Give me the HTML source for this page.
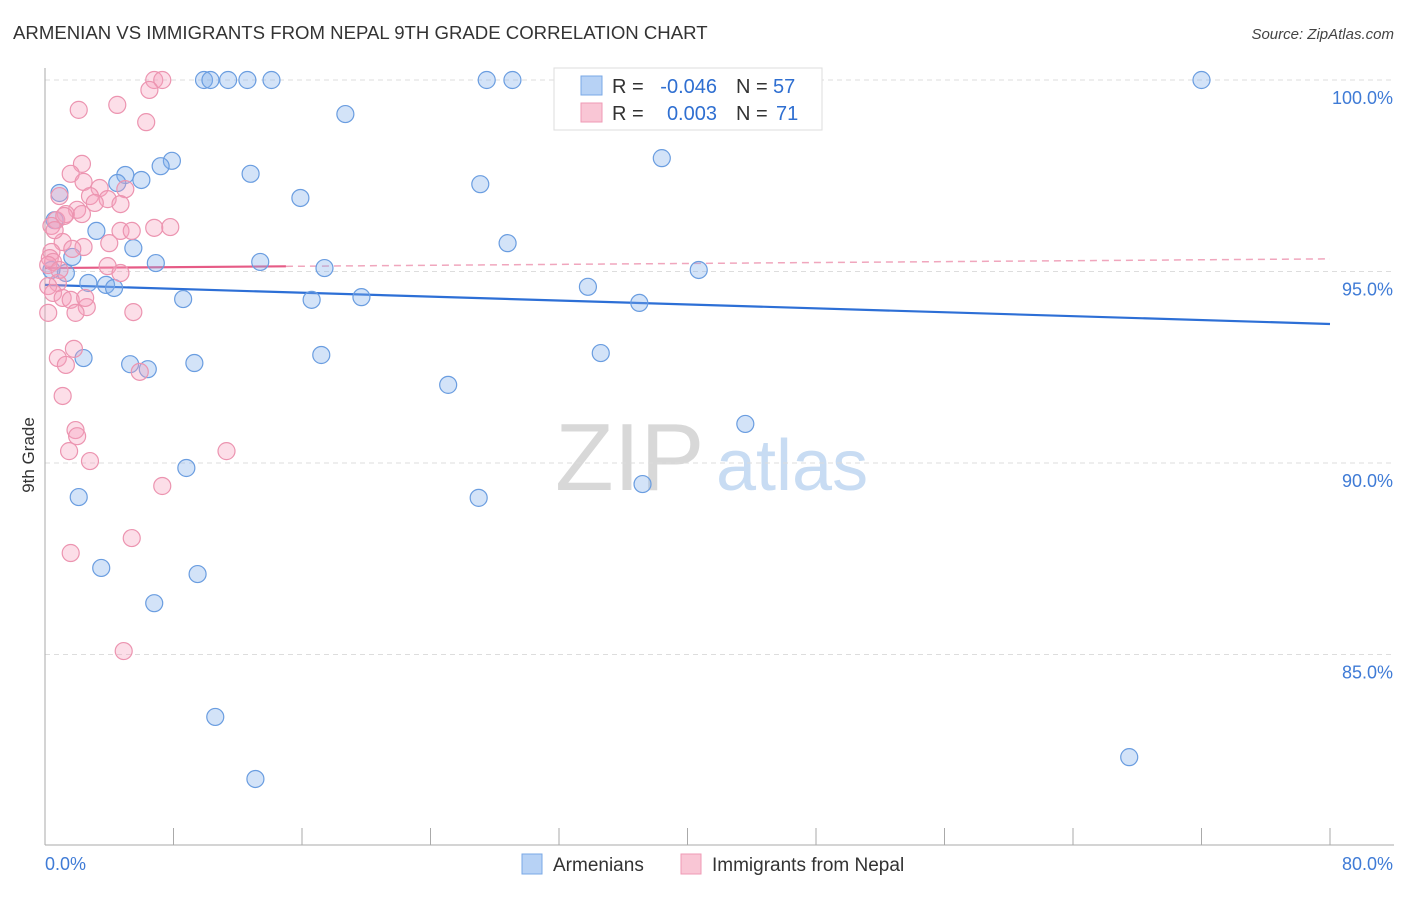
<!DOCTYPE html>
<html><head><meta charset="utf-8"><style>
body{margin:0;background:#fff;font-family:"Liberation Sans",sans-serif;}
svg text{font-family:"Liberation Sans",sans-serif;}
</style></head><body>
<svg id="chart" width="1406" height="892" xmlns="http://www.w3.org/2000/svg">
<text x="13" y="39" font-size="18.6" fill="#333">ARMENIAN VS IMMIGRANTS FROM NEPAL 9TH GRADE CORRELATION CHART</text>
<text x="1394" y="39" font-size="15" fill="#444" text-anchor="end" font-style="italic">Source: ZipAtlas.com</text>
<text transform="translate(34,455) rotate(-90)" font-size="17" fill="#333" text-anchor="middle">9th Grade</text>
<g>
<text x="555" y="490" font-size="96" fill="#d8d8d8" font-family="Liberation Serif,serif">ZIP</text>
<text x="716" y="490" font-size="72" fill="#c8dcf3">atlas</text>
</g>
<g id="grid"></g><g id="axes"></g><g id="lines"></g><g id="pts"></g>
<g>
<rect x="554" y="68" width="268" height="62" fill="#fff" stroke="#ddd"/>
<rect x="581" y="76" width="21" height="19" fill="#b7d2f5" stroke="#7aa8e6"/>
<rect x="581" y="103" width="21" height="19" fill="#f9c6d5" stroke="#ef9ab5"/>
<text x="612" y="93" font-size="20" fill="#333">R =</text>
<text x="717" y="93" font-size="20" fill="#2f6fd1" text-anchor="end">-0.046</text>
<text x="736" y="93" font-size="20" fill="#333">N =</text>
<text x="773" y="93" font-size="20" fill="#2f6fd1">57</text>
<text x="612" y="120" font-size="20" fill="#333">R =</text>
<text x="717" y="120" font-size="20" fill="#2f6fd1" text-anchor="end">0.003</text>
<text x="736" y="120" font-size="20" fill="#333">N =</text>
<text x="776" y="120" font-size="20" fill="#2f6fd1">71</text>
</g>
<g>
<rect x="522" y="854" width="20" height="20" fill="#b7d2f5" stroke="#7aa8e6"/>
<text x="553" y="871" font-size="19" fill="#333">Armenians</text>
<rect x="681" y="854" width="20" height="20" fill="#f9c6d5" stroke="#ef9ab5"/>
<text x="712" y="871" font-size="19" fill="#333">Immigrants from Nepal</text>
</g>
</svg>
<script>
const blueX=[9.9,10.3,11.4,12.6,14.1,27.5,29.1,32.8,72.0,18.7,38.4,7.9,7.2,12.8,5.0,6.0,4.5,27.1,0.9,15.9,0.6,3.2,28.8,5.5,1.7,6.9,13.4,17.4,40.7,1.3,2.7,3.8,4.3,33.8,8.6,16.6,19.7,37.0,17.2,34.6,2.4,5.3,6.4,9.3,25.1,43.6,8.8,37.2,2.1,27.0,3.5,9.5,6.8,10.6,13.1,67.5,0.4];
const blueY=[100,100,100,100,100,100,100,100,100,99.11,97.96,97.89,97.75,97.55,97.52,97.39,97.31,97.28,97.05,96.92,96.34,96.06,95.74,95.61,95.38,95.22,95.25,95.09,95.04,94.96,94.7,94.65,94.57,94.6,94.28,94.26,94.33,94.18,92.82,92.87,92.74,92.58,92.45,92.61,92.04,91.02,89.87,89.45,89.11,89.09,87.26,87.1,86.34,83.37,81.75,82.32,95.04];
const pinkX=[6.8,7.3,6.5,2.1,4.5,6.3,2.3,1.6,2.4,0.9,3.4,5.0,2.8,3.9,4.7,2.0,1.3,2.3,3.1,0.7,1.2,0.4,4.7,6.8,7.8,5.4,1.1,4.0,2.4,1.7,0.4,0.3,0.5,0.2,3.9,4.7,0.8,0.2,0.5,1.1,1.6,2.6,1.9,0.2,5.5,0.8,1.8,1.3,5.9,1.1,1.9,2.0,1.5,2.8,11.3,7.3,1.6,5.4,4.9,0.6,0.9,2.5];
const pinkY=[100,100,99.74,99.22,99.35,98.9,97.81,97.55,97.34,96.97,97.18,97.15,96.97,96.89,96.76,96.61,96.5,96.5,96.79,96.34,96.45,96.19,96.06,96.14,96.16,96.06,95.77,95.74,95.64,95.59,95.51,95.35,95.25,95.17,95.14,94.96,94.7,94.62,94.44,94.31,94.26,94.07,93.92,93.92,93.94,92.74,92.98,92.56,92.38,91.75,90.86,90.7,90.31,90.05,90.31,89.4,87.65,88.04,85.09,96.08,95.04,94.31];
const yTicks=[100,95,90,85];
const yTickLabels=["100.0%","95.0%","90.0%","85.0%"];
const xTicks=[0,8,16,24,32,40,48,56,64,72,80];
const xEndLabels=["0.0%","80.0%"];
const blueTrend=[94.65,93.63];
const pinkTrend=[95.09,95.33];
const pinkSolidEnd=15;
const NS="http://www.w3.org/2000/svg";
const X=v=>45+v*1285/80, Y=v=>80+(100-v)*38.3;
function mk(t,a,p){const e=document.createElementNS(NS,t);for(const k in a)e.setAttribute(k,a[k]);p.appendChild(e);return e;}
const grid=document.getElementById('grid'),axes=document.getElementById('axes'),lines=document.getElementById('lines'),pts=document.getElementById('pts');
yTicks.forEach((t,i)=>{
 const l=mk('line',{x1:45,x2:1394,y1:Y(t),y2:Y(t),stroke:'#ddd','stroke-dasharray':'5,4'},grid);
 
 
 const tx=mk('text',{x:1393,y:Y(t)+24,'font-size':18,fill:'#3f7bd6','text-anchor':'end'},axes);
 tx.textContent=yTickLabels[i];
 
 
});
const ax=mk('line',{x1:45,x2:45,y1:68,y2:845,stroke:'#aaa'},axes);


const bx=mk('line',{x1:45,x2:1394,y1:845,y2:845,stroke:'#aaa'},axes);


xTicks.forEach(t=>{
 const l=mk('line',{x1:X(t),x2:X(t),y1:828,y2:845,stroke:'#aaa'},axes);
 
 
});
const xl0=mk('text',{x:45,y:870,'font-size':18,fill:'#3f7bd6'},axes);xl0.textContent=xEndLabels[0];


const xl1=mk('text',{x:1393,y:870,'font-size':18,fill:'#3f7bd6','text-anchor':'end'},axes);xl1.textContent=xEndLabels[1];


blueX.forEach((x,i)=>{
 const c=mk('circle',{cx:X(x),cy:Y(blueY[i]),r:8.5,fill:'rgba(130,175,235,0.35)',stroke:'#6a9de0','stroke-width':1.2},pts);
 
 
});
pinkX.forEach((x,i)=>{
 const c=mk('circle',{cx:X(x),cy:Y(pinkY[i]),r:8.5,fill:'rgba(245,160,190,0.35)',stroke:'#ec94b0','stroke-width':1.2},pts);
 
 
});
const bt=mk('line',{x1:X(0),y1:Y(blueTrend[0]),x2:X(80),y2:Y(blueTrend[1]),stroke:'#2d6fd6','stroke-width':2.2},lines);


const pyAt=x=>pinkTrend[0]+(pinkTrend[1]-pinkTrend[0])*x/80;
const pd=mk('line',{x1:X(pinkSolidEnd),y1:Y(pyAt(pinkSolidEnd)),x2:X(80),y2:Y(pinkTrend[1]),stroke:'#f0a6bd','stroke-width':1.5,'stroke-dasharray':'7,5'},lines);


const ps=mk('line',{x1:X(0),y1:Y(pinkTrend[0]),x2:X(pinkSolidEnd),y2:Y(pyAt(pinkSolidEnd)),stroke:'#e65b86','stroke-width':2.2},lines);


</script>
</body></html>
